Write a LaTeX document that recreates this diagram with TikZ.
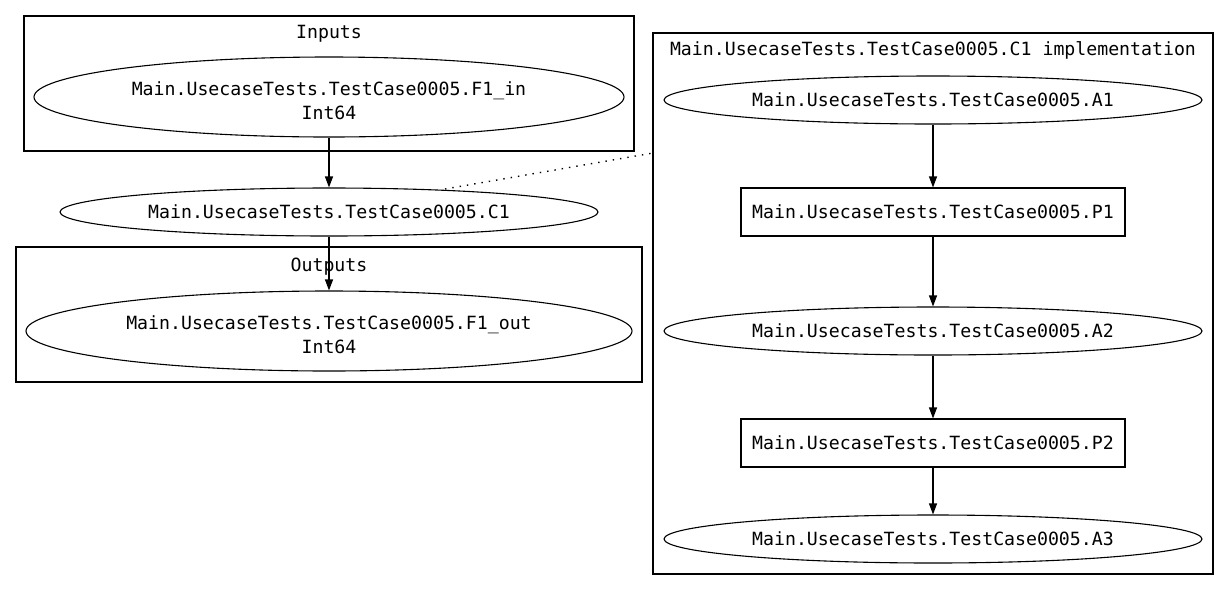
\documentclass[tikz,border=0pt]{standalone}
\usepackage{fontspec}
\setmonofont{DejaVu Sans Mono}
\usetikzlibrary{shapes.geometric,arrows.meta}
\begin{document}
\begin{tikzpicture}[x=1pt,y=-1pt,
  every node/.style={font=\ttfamily\fontsize{18.2}{24}\selectfont, inner sep=0pt, line width=1.1pt},
  ell/.style={draw, ellipse, minimum width=#1, align=center},
  pbox/.style={draw, rectangle, minimum width=384pt, minimum height=48pt},
  clus/.style={draw, rectangle},
  arr/.style={line width=1.1pt, -{Triangle[length=11pt,width=8pt]}},
  dotline/.style={line width=1.4pt, dash pattern=on 1.4pt off 6pt}
]
\useasboundingbox (0,0) rectangle (1229,590);
% clusters
\node[clus, minimum width=610pt, minimum height=135pt] (inputs) at (329,83.5) {};
\node (inputslbl) at (329,34) {Inputs};
\node[clus, minimum width=626pt, minimum height=135pt] (outputs) at (329,314.5) {};
\node (outputslbl) at (329,267) {Outputs};
\node[clus, minimum width=560pt, minimum height=541pt] (impl) at (933,303.5) {};
\node (impllbl) at (933,50) {Main.UsecaseTests.TestCase0005.C1 implementation};
% left nodes
\node[ell=590pt, minimum height=80pt] (f1in) at (329,97) {\rule{0pt}{22pt}Main.UsecaseTests.TestCase0005.F1\_in\\Int64};
\node[ell=538pt, minimum height=48pt] (c1) at (329,212) {Main.UsecaseTests.TestCase0005.C1};
\node[ell=606pt, minimum height=80pt] (f1out) at (329,331) {\rule{0pt}{22pt}Main.UsecaseTests.TestCase0005.F1\_out\\Int64};
% right nodes
\node[ell=538pt, minimum height=48pt] (a1) at (933,100) {Main.UsecaseTests.TestCase0005.A1};
\node[pbox] (p1) at (933,212) {Main.UsecaseTests.TestCase0005.P1};
\node[ell=538pt, minimum height=48pt] (a2) at (933,331) {Main.UsecaseTests.TestCase0005.A2};
\node[pbox] (p2) at (933,443) {Main.UsecaseTests.TestCase0005.P2};
\node[ell=538pt, minimum height=48pt] (a3) at (933,539) {Main.UsecaseTests.TestCase0005.A3};
% edges
\draw[arr] (f1in) -- (c1);
\draw[arr] (c1) -- (f1out);
\draw[arr] (a1) -- (p1);
\draw[arr] (p1) -- (a2);
\draw[arr] (a2) -- (p2);
\draw[arr] (p2) -- (a3);
\coordinate (c1start) at (445,189);
\coordinate (implentry) at (653,153);
\draw[dotline] (c1start) -- (implentry);
\end{tikzpicture}
\end{document}
